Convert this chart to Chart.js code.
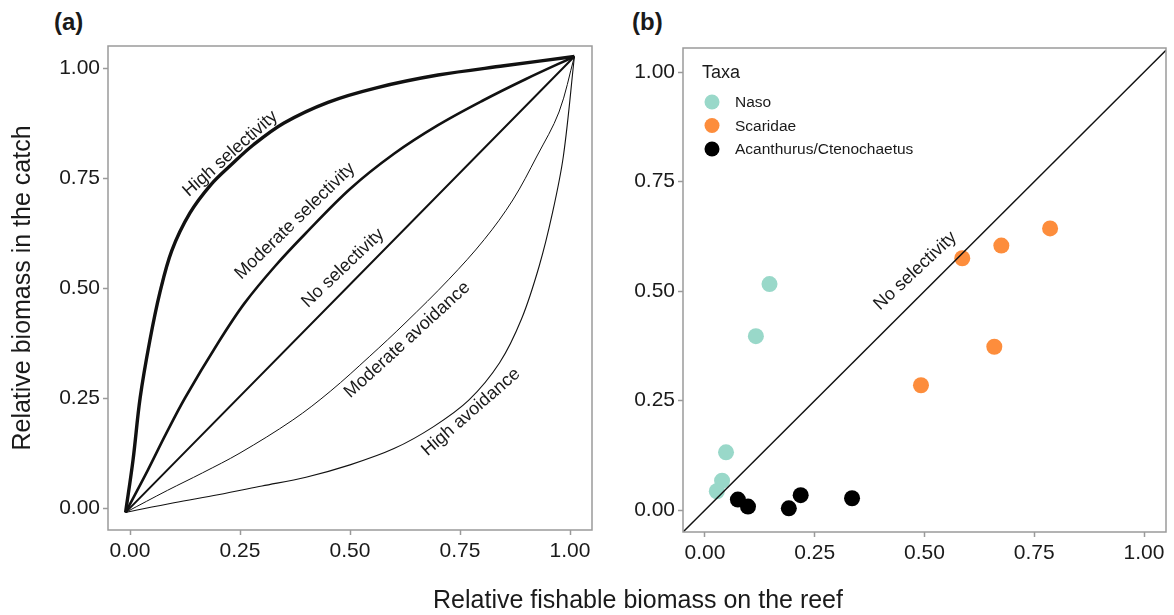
<!DOCTYPE html>
<html>
<head>
<meta charset="utf-8">
<script src="https://cdn.jsdelivr.net/npm/chart.js@4.4.1/dist/chart.umd.min.js"></script>
<style>
  body { margin: 0; background: #fff; width: 1174px; height: 615px; overflow: hidden; position: relative;
         font-family: "Liberation Sans", Arial, sans-serif; color: #1a1a1a; }
  #wrapA { position: absolute; left: 0; top: 0; width: 600px; height: 615px; }
  #wrapB { position: absolute; left: 600px; top: 0; width: 574px; height: 615px; }
  .tag { position: absolute; top: 10px; font-size: 24px; font-weight: bold; line-height: 1; }
  #xTitle { position: absolute; left: 638px; top: 587px; transform: translateX(-50%);
            font-size: 25px; line-height: 1; white-space: nowrap; }
</style>
</head>
<body>
<div class="tag" style="left:54px">(a)</div>
<div class="tag" style="left:632px">(b)</div>
<div id="wrapA"><canvas id="chartA" width="600" height="615"></canvas></div>
<div id="wrapB"><canvas id="chartB" width="574" height="615"></canvas></div>
<div id="xTitle">Relative fishable biomass on the reef</div>
<script>
// axis ticks (both panels)
const tickValues = [0, 0.25, 0.5, 0.75, 1]

// panel (a): selectivity curves
const highSelX = [-0.01, 0.007, 0.023, 0.045, 0.068, 0.095, 0.136, 0.184, 0.23, 0.28, 0.35, 0.45, 0.56, 0.70, 0.85, 1.01]
const highSelY = [-0.01, 0.11, 0.25, 0.38, 0.49, 0.585, 0.67, 0.735, 0.78, 0.825, 0.875, 0.922, 0.955, 0.984, 1.005, 1.026]

const modSelX = [-0.01, 0.04, 0.08, 0.125, 0.2, 0.26, 0.33, 0.4, 0.5, 0.6, 0.7, 0.8, 0.9, 1.01]
const modSelY = [-0.01, 0.085, 0.165, 0.25, 0.375, 0.465, 0.55, 0.625, 0.725, 0.805, 0.87, 0.925, 0.975, 1.026]

const noSelX = [-0.01, 1.01]
const noSelY = [-0.01, 1.026]

const modAvoidX = [-0.01, 0.085, 0.165, 0.25, 0.37, 0.455, 0.545, 0.625, 0.725, 0.805, 0.87, 0.925, 0.975, 1.01]
const modAvoidY = [-0.01, 0.04, 0.08, 0.125, 0.2, 0.265, 0.345, 0.42, 0.52, 0.61, 0.7, 0.8, 0.9, 1.026]

const highAvoidX = [-0.01, 0.1, 0.2, 0.3, 0.4, 0.5, 0.6, 0.69, 0.77, 0.84, 0.89, 0.93, 0.96, 0.985, 1.01]
const highAvoidY = [-0.01, 0.012, 0.03, 0.05, 0.07, 0.098, 0.135, 0.185, 0.245, 0.33, 0.43, 0.55, 0.67, 0.8, 1.026]

// panel (b): taxa
const taxaNames = ["Naso", "Scaridae", "Acanthurus/Ctenochaetus"]
const taxaColors = ["#99d8c9", "#fd8d3c", "#000000"]

const nasoX = [0.147, 0.116, 0.048, 0.039, 0.027]
const nasoY = [0.516, 0.397, 0.132, 0.067, 0.043]
const scarX = [0.586, 0.675, 0.786, 0.492, 0.659]
const scarY = [0.575, 0.604, 0.643, 0.285, 0.373]
const acanX = [0.075, 0.098, 0.191, 0.218, 0.335]
const acanY = [0.024, 0.008, 0.004, 0.034, 0.027]

// 1:1 line
const diagX = [-0.05, 1.05]
const diagY = [-0.05, 1.05]

const fontFamily = '"Liberation Sans", Arial, sans-serif'
const textColor = '#1a1a1a'
const frameColor = '#9a9a9a'

function pts(xs, ys) {
    return xs.map((x, i) => ({ x: x, y: ys[i] }))
}

// text placed along the curves: data position of the text centre + angle in degrees
const curveLabelsA = [
    { text: "High selectivity", x: 0.228, y: 0.805, angle: -41.5 },
    { text: "Moderate selectivity", x: 0.375, y: 0.652, angle: -44 },
    { text: "No selectivity", x: 0.484, y: 0.545, angle: -43.5 },
    { text: "Moderate avoidance", x: 0.63, y: 0.382, angle: -42.4 },
    { text: "High avoidance", x: 0.775, y: 0.218, angle: -41 },
]
const curveLabelsB = [
    { text: "No selectivity", x: 0.479, y: 0.546, angle: -43 },
]

function framePlugin(labels, withLegend) {
    return {
        id: 'frame',
        afterDatasetsDraw(chart) {
            const { ctx, chartArea: a, scales } = chart
            ctx.save()
            ctx.strokeStyle = frameColor
            ctx.lineWidth = 1.5
            ctx.strokeRect(a.left, a.top, a.width, a.height)

            ctx.fillStyle = textColor
            ctx.font = '18px ' + fontFamily
            ctx.textAlign = 'center'
            ctx.textBaseline = 'middle'
            labels.forEach(l => {
                ctx.save()
                ctx.translate(scales.x.getPixelForValue(l.x), scales.y.getPixelForValue(l.y))
                ctx.rotate(l.angle * Math.PI / 180)
                ctx.fillText(l.text, 0, 0)
                ctx.restore()
            })

            if (withLegend) {
                ctx.textAlign = 'left'
                ctx.font = '18px ' + fontFamily
                ctx.fillText("Taxa", a.left + 19, 73)
                ctx.font = '15.5px ' + fontFamily
                taxaNames.forEach((name, i) => {
                    let cy = 102 + i * 23.5
                    ctx.fillStyle = taxaColors[i]
                    ctx.beginPath()
                    ctx.arc(a.left + 29, cy, 7.5, 0, Math.PI * 2)
                    ctx.fill()
                    ctx.fillStyle = textColor
                    ctx.fillText(name, a.left + 52, cy + 1)
                })
            }
            ctx.restore()
        }
    }
}

function axis(fixedSize, horizontal, min, max, title) {
    let ax = {
        type: 'linear',
        min: min,
        max: max,
        border: { display: false },
        grid: { drawOnChartArea: false, drawTicks: true, tickLength: 5, tickColor: frameColor, tickWidth: 1.5 },
        ticks: {
            color: textColor,
            font: { family: fontFamily, size: 21 },
            padding: horizontal ? 4 : 3,
            maxRotation: 0,
            autoSkip: false,
            callback: v => v.toFixed(2),
        },
        afterBuildTicks: s => { s.ticks = tickValues.map(v => ({ value: v })) },
        afterFit: s => {
            if (horizontal) s.height = fixedSize
            else s.width = fixedSize
        },
    }
    if (title) {
        ax.title = {
            display: true, text: title, color: textColor,
            font: { family: fontFamily, size: 25 },
            padding: { top: 8, bottom: 0 },
        }
    }
    return ax
}

function curve(label, xs, ys, width) {
    return {
        label: label,
        data: pts(xs, ys),
        showLine: true,
        borderColor: '#111',
        borderWidth: width,
        pointRadius: 0,
        tension: 0.35,
    }
}

let ctxA = document.getElementById("chartA").getContext("2d")
let ctxB = document.getElementById("chartB").getContext("2d")

let configA = {
    type: 'scatter',
    data: {
        datasets: [
            curve("High selectivity", highSelX, highSelY, 3.4),
            curve("Moderate selectivity", modSelX, modSelY, 2.6),
            curve("No selectivity", noSelX, noSelY, 2),
            curve("Moderate avoidance", modAvoidX, modAvoidY, 1),
            curve("High avoidance", highAvoidX, highAvoidY, 1.1),
        ],
    },
    options: {
        responsive: false,
        animation: false,
        layout: { padding: { left: 0, top: 46, right: 8, bottom: 0 } },
        plugins: { legend: { display: false }, tooltip: { enabled: false } },
        scales: {
            x: axis(85, true, -0.05, 1.05),
            y: axis(108, false, -0.05, 1.05, "Relative biomass in the catch"),
        },
    },
    plugins: [framePlugin(curveLabelsA, false)],
}

let configB = {
    type: 'scatter',
    data: {
        datasets: [
            {
                label: "No selectivity",
                data: pts(diagX, diagY),
                showLine: true,
                borderColor: '#111',
                borderWidth: 1.5,
                pointRadius: 0,
                order: 0,
            },
            {
                label: taxaNames[0],
                data: pts(nasoX, nasoY),
                backgroundColor: taxaColors[0],
                borderWidth: 0,
                pointRadius: 8,
                order: 1,
            },
            {
                label: taxaNames[1],
                data: pts(scarX, scarY),
                backgroundColor: taxaColors[1],
                borderWidth: 0,
                pointRadius: 8,
                order: 2,
            },
            {
                label: taxaNames[2],
                data: pts(acanX, acanY),
                backgroundColor: taxaColors[2],
                borderWidth: 0,
                pointRadius: 8,
                order: 3,
            },
        ],
    },
    options: {
        responsive: false,
        animation: false,
        layout: { padding: { left: 0, top: 48, right: 7, bottom: 0 } },
        plugins: { legend: { display: false }, tooltip: { enabled: false } },
        scales: {
            x: axis(83, true, -0.05, 1.05),
            y: axis(83, false, -0.05, 1.055),
        },
    },
    plugins: [framePlugin(curveLabelsB, true)],
}

let chartA = new Chart(ctxA, configA)
let chartB = new Chart(ctxB, configB)
</script>
</body>
</html>
